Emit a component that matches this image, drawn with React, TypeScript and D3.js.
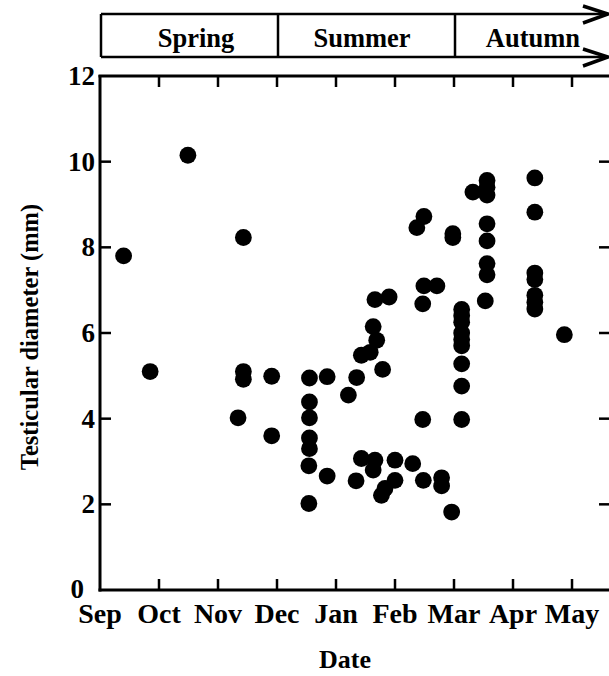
// @ts-nocheck
import * as d3 from 'd3';

const width = 609, height = 676
const font = "'Liberation Serif', 'Times New Roman', Times, 'DejaVu Serif', serif"

const monthLabels = ["Sep", "Oct", "Nov", "Dec", "Jan", "Feb", "Mar", "Apr", "May"]
const seasonLabels = ["Spring", "Summer", "Autumn"]
const seasonStarts = [0, 3, 6]   // months after 1 Sep
const yTicks = [0, 2, 4, 6, 8, 10, 12]

// sampling date, in months after 1 Sep
const dates = [
  0.40, 0.85, 1.49,
  2.34, 2.43, 2.43, 2.43,
  2.91, 2.91,
  3.55, 3.55, 3.55, 3.55, 3.55, 3.54, 3.54,
  3.85, 3.85, 4.21, 4.35, 4.34, 4.43, 4.66, 4.63,
  4.43, 4.58, 4.69, 4.63, 4.66, 4.90, 4.79, 4.83, 4.77,
  5.00, 5.00, 5.30,
  5.48, 5.79, 5.79, 5.96, 5.47, 5.47, 5.49, 5.71, 5.37, 5.49, 5.98, 5.98,
  6.13, 6.13, 6.13, 6.13, 6.13, 6.13, 6.13, 6.13, 6.13,
  6.32, 6.56, 6.56, 6.56, 6.56, 6.56, 6.56, 6.56, 6.53,
  7.37, 7.37, 7.37, 7.37, 7.37, 7.37, 7.37,
  7.87
]
// testicular diameter (mm)
const diameters = [
  7.8, 5.1, 10.15,
  4.02, 8.23, 5.1, 4.92,
  4.99, 3.6,
  4.95, 4.39, 4.02, 3.55, 3.3, 2.9, 2.02,
  4.98, 2.66, 4.55, 4.96, 2.55, 3.07, 3.03, 2.8,
  5.48, 5.55, 5.83, 6.15, 6.78, 6.84, 5.15, 2.37, 2.21,
  3.03, 2.56, 2.95,
  2.56, 2.62, 2.43, 1.82, 3.98, 6.68, 7.1, 7.1, 8.46, 8.72, 8.32, 8.23,
  6.55, 6.4, 6.25, 6.0, 5.85, 5.7, 5.28, 4.76, 3.98,
  9.29, 9.56, 9.4, 9.22, 8.55, 8.15, 7.62, 7.36, 6.75,
  9.62, 8.82, 7.4, 7.25, 6.88, 6.72, 6.56,
  5.96
]

const x = d3.scaleLinear().domain([0, 8.61]).range([100, 608])
const y = d3.scaleLinear().domain([0, 12]).range([590, 76])

const T = (props) => (
  <text {...props} style={{ fontFamily: font, fontWeight: 700 }}>{props.children}</text>
)

export default function App() {
  const left = x(0), right = 611, top = y(12), bottom = y(0)
  const boxTop = 14, boxBottom = 57
  const monthTicks = d3.range(1, 9)
  const seasonCenters = [196, 362, 533]

  const arrow = (cy) => `M583,${cy - 8} L608,${cy} L583,${cy + 9}`

  return (
    <svg width={width} height={height} style={{ position: "absolute", left: 0, top: 0, background: "#fff" }}>
      {/* season band */}
      <g stroke="#000" strokeWidth={2.5} fill="none">
        <line x1={left + 1} x2={605} y1={boxTop} y2={boxTop} />
        <line x1={left + 1} x2={605} y1={boxBottom} y2={boxBottom} />
        {seasonStarts.map((s) => (
          <line key={s} x1={x(s) + 1} x2={x(s) + 1} y1={boxTop} y2={boxBottom} />
        ))}
        <path d={arrow(boxTop)} strokeWidth={3.5} strokeLinejoin="miter" />
        <path d={arrow(boxBottom)} strokeWidth={3.5} strokeLinejoin="miter" />
      </g>
      {seasonLabels.map((s, i) => (
        <T key={s} x={seasonCenters[i]} y={47} fontSize={26.5} textAnchor="middle">{s}</T>
      ))}

      {/* frame */}
      <g stroke="#000" fill="none">
        <line x1={left} x2={left} y1={top - 1} y2={bottom + 1.5} strokeWidth={3} />
        <line x1={left - 1.5} x2={right} y1={bottom} y2={bottom} strokeWidth={3} />
        <line x1={left - 1.5} x2={right} y1={top} y2={top} strokeWidth={3} />
        <line x1={right} x2={right} y1={top} y2={bottom} strokeWidth={3} />
        {monthTicks.map((m) => (
          <g key={m}>
            <line x1={x(m)} x2={x(m)} y1={bottom} y2={bottom - 11} strokeWidth={2.5} />
            <line x1={x(m)} x2={x(m)} y1={top} y2={top + 11} strokeWidth={2.5} />
          </g>
        ))}
        {yTicks.slice(1, -1).map((t) => (
          <g key={t}>
            <line x1={left} x2={left + 11} y1={y(t)} y2={y(t)} strokeWidth={2.5} />
            <line x1={right} x2={right - 12} y1={y(t)} y2={y(t)} strokeWidth={2.5} />
          </g>
        ))}
      </g>

      {/* tick labels */}
      {yTicks.map((t) => (
        <T key={t} x={t === 0 ? 84 : 95} y={y(t) + (t === 0 ? 8 : 9)} fontSize={27} textAnchor="end">{t}</T>
      ))}
      {monthLabels.map((m, i) => (
        <T key={m} x={x(i)} y={623} fontSize={28} textAnchor="middle">{m}</T>
      ))}

      {/* axis titles */}
      <T x={345} y={668} fontSize={26} textAnchor="middle">Date</T>
      <T transform={`translate(38,${337}) rotate(-90)`} fontSize={24.5} textAnchor="middle">
        Testicular diameter (mm)
      </T>

      {/* points */}
      <g fill="#000">
        {dates.map((d, i) => (
          <circle key={i} cx={x(d)} cy={y(diameters[i])} r={8.4} />
        ))}
      </g>
    </svg>
  )
}
